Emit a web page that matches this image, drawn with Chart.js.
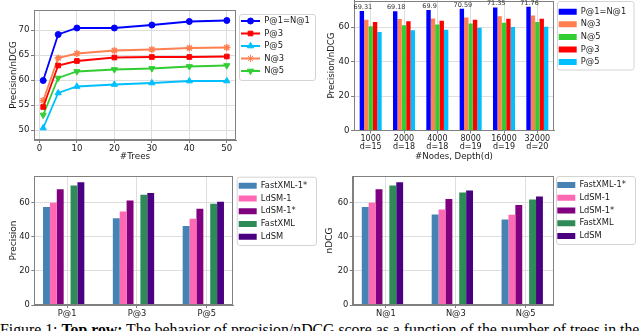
<!DOCTYPE html>
<html>
<head>
<meta charset="utf-8">
<script src="https://cdn.jsdelivr.net/npm/chart.js@4.4.0/dist/chart.umd.min.js"></script>
<style>
  html, body { margin: 0; padding: 0; background: #fff; overflow: hidden; }
  body { width: 640px; height: 331px; position: relative; }
  canvas { position: absolute; }
  #caption { position: absolute; left: 0; top: 322px; font-family: "Liberation Serif", serif; font-size: 15.8px; line-height: 1; white-space: nowrap; color: #000; }
</style>
</head>
<body>
<canvas id="treesChart" width="320" height="170" style="left:0;top:0"></canvas>
<canvas id="nodesChart" width="320" height="170" style="left:320px;top:0"></canvas>
<canvas id="precChart" width="320" height="150" style="left:0;top:170px"></canvas>
<canvas id="ndcgChart" width="320" height="150" style="left:320px;top:170px"></canvas>
<div id="caption">Figure 1: <b>Top row:</b> The behavior of precision/nDCG score as a function of the number of trees in the</div>
<script>
// top left: score vs number of trees
const treeCounts = [1, 5, 10, 20, 30, 40, 50];
const treesP1 = [59.9, 69.1, 70.4, 70.4, 71.0, 71.7, 71.9];
const treesP3 = [54.6, 62.9, 63.8, 64.5, 64.6, 64.6, 64.7];
const treesP5 = [50.4, 57.4, 58.7, 59.1, 59.4, 59.8, 59.8];
const treesN3 = [55.9, 64.4, 65.3, 65.9, 66.1, 66.4, 66.5];
const treesN5 = [53.0, 60.4, 61.7, 62.1, 62.3, 62.7, 62.9];
const treeXTicks = [0, 10, 20, 30, 40, 50];
const treeYTicks = [50, 55, 60, 65, 70];

// top right: score vs #nodes / depth
const nodeLabels = [['1000', 'd=15'], ['2000', 'd=18'], ['4000', 'd=18'], ['8000', 'd=19'], ['16000', 'd=19'], ['32000', 'd=20']];
const nodesP1 = [69.31, 69.18, 69.9, 70.59, 71.35, 71.76];
const nodesN3 = [64.2, 64.6, 65.0, 65.6, 66.3, 66.7];
const nodesN5 = [60.4, 61.0, 61.5, 62.1, 62.5, 62.9];
const nodesP3 = [62.9, 63.3, 63.7, 64.2, 64.8, 64.8];
const nodesP5 = [57.1, 58.1, 58.5, 59.6, 60.0, 60.2];

// bottom: comparison of methods
const precCats = ['P@1', 'P@3', 'P@5'];
const precFastXml1 = [57.3, 50.7, 46.2];
const precLdsm1 = [59.8, 54.7, 50.5];
const precLdsm1Star = [67.8, 61.2, 56.3];
const precFastXml = [69.9, 64.5, 59.2];
const precLdsm = [71.9, 65.5, 60.4];

const ndcgCats = ['N@1', 'N@3', 'N@5'];
const ndcgFastXml1 = [57.3, 53.0, 50.1];
const ndcgLdsm1 = [59.8, 55.9, 52.8];
const ndcgLdsm1Star = [67.8, 62.0, 58.6];
const ndcgFastXml = [69.9, 65.9, 61.8];
const ndcgLdsm = [71.9, 67.0, 63.5];

const barYTicks = [0, 20, 40, 60];

Chart.defaults.font.family = 'DejaVu Sans';
Chart.defaults.color = '#1a1a1a';
Chart.defaults.animation = false;

const GRID = '#dedede';
const SPINE = '#808080';

// box round the plot, legend frame + placement, value labels
const framePlugin = {
    id: 'frame',
    afterInit(chart) {
        const lg = chart.legend;
        const fit = lg.fit.bind(lg);
        const draw = lg.draw.bind(lg);
        lg.fit = function() {
            fit();
            this.width = chart.options.plugins.frame.legendWidth;
        };
        lg.draw = function() {
            const o = chart.options.plugins.frame;
            const ctx = chart.ctx;
            const dx = o.swatchX - (this.left + o.pad);
            const dy = o.firstY - (this.top + o.pad + o.fontSize / 2);
            const b = o.box;
            ctx.save();
            ctx.fillStyle = '#ffffff';
            ctx.strokeStyle = '#d4d4d4';
            ctx.lineWidth = 1;
            ctx.beginPath();
            ctx.roundRect(b[0] + 0.5, b[1] + 0.5, b[2], b[3], 2.5);
            ctx.fill();
            ctx.stroke();
            ctx.translate(dx, dy);
            draw();
            // markers on the line legend
            if (o.markers && Chart.helpers && Chart.helpers.drawPoint) {
                const step = Math.max(o.fontSize, o.boxHeight) + o.pad;
                chart.data.datasets.forEach((ds, i) => {
                    ctx.fillStyle = ds.borderColor;
                    ctx.strokeStyle = ds.borderColor;
                    Chart.helpers.drawPoint(ctx, {
                        pointStyle: ds.pointStyle,
                        rotation: ds.pointRotation || 0,
                        radius: ds.pointRadius,
                        borderWidth: 1.2
                    }, this.left + o.pad + o.boxWidth / 2, this.top + o.pad + i * step + o.fontSize / 2);
                });
            }
            ctx.restore();
        };
    },
    afterDatasetsDraw(chart) {
        const o = chart.options.plugins.frame;
        const ctx = chart.ctx;
        const a = chart.chartArea;
        ctx.save();
        ctx.strokeStyle = SPINE;
        ctx.lineWidth = 1;
        ctx.strokeRect(Math.round(a.left) + 0.5, Math.round(a.top) + 0.5,
            Math.round(a.right - a.left) - 1, Math.round(a.bottom - a.top) - 1);
        if (o.valueLabels) {
            const meta = chart.getDatasetMeta(0);
            ctx.fillStyle = '#333';
            ctx.font = '6.5px "DejaVu Sans"';
            ctx.textAlign = 'center';
            ctx.textBaseline = 'bottom';
            meta.data.forEach((bar, i) => {
                ctx.fillText(String(chart.data.datasets[0].data[i]), bar.x + 1, bar.y - 0.5);
            });
        }
        ctx.restore();
    }
};

function setTicks(vals) {
    return s => { s.ticks = vals.map(v => ({ value: v })); };
}
function fixX(h) {
    return s => { s.height = h; s.paddingLeft = 0; s.paddingRight = 0; };
}
function fixY(w) {
    return s => { s.width = w; s.paddingTop = 0; s.paddingBottom = 0; };
}
function gridOpts() {
    return { color: GRID, tickColor: SPINE, tickLength: 3, offset: false };
}
function flatLegend(chart) {
    return Chart.defaults.plugins.legend.labels.generateLabels(chart)
        .map(l => Object.assign(l, { lineWidth: 0, fillStyle: l.strokeStyle }));
}

function lineSet(label, vals, color, style, rot, r) {
    return {
        label: label,
        data: treeCounts.map((x, i) => ({ x: x, y: vals[i] })),
        borderColor: color,
        backgroundColor: color,
        borderWidth: 1.8,
        pointStyle: style,
        pointRotation: rot,
        pointRadius: r,
        pointBorderWidth: style === 'star' ? 1.5 : 1,
        tension: 0
    };
}

// top left
new Chart(document.getElementById('treesChart'), {
    type: 'line',
    data: {
        datasets: [
            lineSet('P@1=N@1', treesP1, '#0000ff', 'circle', 0, 3),
            lineSet('P@3', treesP3, '#ff0000', 'rect', 0, 3.3),
            lineSet('P@5', treesP5, '#00bfff', 'triangle', 0, 3.6),
            lineSet('N@3', treesN3, '#ff7f50', 'star', 0, 3.6),
            lineSet('N@5', treesN5, '#32cd32', 'triangle', 180, 3.6)
        ]
    },
    options: {
        responsive: false,
        layout: { padding: { top: 10, left: 0, right: 0, bottom: 0 } },
        scales: {
            x: {
                type: 'linear', bounds: 'data', min: -1.45, max: 52.45,
                afterBuildTicks: setTicks(treeXTicks), afterFit: fixX(30),
                ticks: { padding: 1, font: { size: 8.6 } },
                grid: gridOpts(), border: { color: SPINE },
                title: { display: true, text: '#Trees', font: { size: 8.8 }, padding: { top: 0, bottom: 7.7 } }
            },
            y: {
                min: 48, max: 74,
                afterBuildTicks: setTicks(treeYTicks), afterFit: fixY(34),
                ticks: { padding: 1.5, font: { size: 8.6 } },
                grid: gridOpts(), border: { color: SPINE },
                title: { display: true, text: 'Precision/nDCG', font: { size: 8.8 }, padding: { top: 8.7, bottom: 0 } }
            }
        },
        plugins: {
            tooltip: { enabled: false },
            legend: {
                position: 'right', align: 'start',
                labels: { boxWidth: 19, boxHeight: 2, padding: 4.1, font: { size: 8.4 }, generateLabels: flatLegend }
            },
            frame: { legendWidth: 84, swatchX: 241, firstY: 21, pad: 4.1, fontSize: 8.4, boxWidth: 19, boxHeight: 2, box: [239, 14, 76, 66], markers: true }
        }
    },
    plugins: [framePlugin]
});

// top right
function nodeBar(label, vals, color) {
    return { label: label, data: vals, backgroundColor: color, borderWidth: 0 };
}
new Chart(document.getElementById('nodesChart'), {
    type: 'bar',
    data: {
        labels: nodeLabels,
        datasets: [
            nodeBar('P@1=N@1', nodesP1, '#0000ff'),
            nodeBar('N@3', nodesN3, '#ff7f50'),
            nodeBar('N@5', nodesN5, '#32cd32'),
            nodeBar('P@3', nodesP3, '#ff0000'),
            nodeBar('P@5', nodesP5, '#00bfff')
        ]
    },
    options: {
        responsive: false,
        datasets: { bar: { categoryPercentage: 0.66, barPercentage: 1 } },
        layout: { padding: { top: 0.5, left: 0, right: 0, bottom: 0 } },
        scales: {
            x: {
                offset: true, afterFit: fixX(39.5),
                ticks: { padding: 1, maxRotation: 0, autoSkip: false, font: { size: 8, lineHeight: 1.05 } },
                grid: gridOpts(), border: { color: SPINE },
                title: { display: true, text: '#Nodes, Depth(d)', font: { size: 8.6 }, padding: { top: 0, bottom: 7.7 } }
            },
            y: {
                min: 0, max: 75.4,
                afterBuildTicks: setTicks(barYTicks), afterFit: fixY(34),
                ticks: { padding: 1.5, font: { size: 8.6 } },
                grid: gridOpts(), border: { color: SPINE },
                title: { display: true, text: 'Precision/nDCG', font: { size: 8.6 }, padding: { top: 6.6, bottom: 0 } }
            }
        },
        plugins: {
            tooltip: { enabled: false },
            legend: {
                position: 'right', align: 'start',
                labels: { boxWidth: 18, boxHeight: 6, padding: 4.3, font: { size: 8.3 } }
            },
            frame: { legendWidth: 86, swatchX: 238.7, firstY: 11.7, pad: 4.3, fontSize: 8.3, boxWidth: 18, boxHeight: 6, box: [237, 1, 76.5, 68.5], valueLabels: true }
        }
    },
    plugins: [framePlugin]
});

// bottom: grouped bars with empty slots
function methodBar(label, vals, color) {
    return {
        label: label,
        data: [0, 1, 2].map(i => ({ x: i, y: vals ? vals[i] : null })),
        backgroundColor: color,
        borderWidth: 0
    };
}
function methodChart(id, cats, title, series, box, yWidth, xMin, xMax, titlePad, swatchX, firstY) {
    return new Chart(document.getElementById(id), {
        type: 'bar',
        data: {
            datasets: [
                methodBar('FastXML-1*', series[0], '#4682b4'),
                methodBar('LdSM-1', series[1], '#ff69b4'),
                methodBar('LdSM-1*', series[2], '#800080'),
                methodBar('', null, '#ffffff'),
                methodBar('FastXML', series[3], '#2e8b57'),
                methodBar('LdSM', series[4], '#4b0082'),
                methodBar('', null, '#ffffff')
            ]
        },
        options: {
            responsive: false,
            datasets: { bar: { categoryPercentage: 0.69, barPercentage: 1 } },
            layout: { padding: { top: 6, left: 0, right: 0, bottom: 0 } },
            scales: {
                x: {
                    type: 'linear', bounds: 'data', offset: false, min: xMin, max: xMax,
                    afterBuildTicks: setTicks([0, 1, 2]), afterFit: fixX(15),
                    ticks: { padding: 1, font: { size: 8.3 }, callback: v => cats[v] },
                    grid: gridOpts(), border: { color: SPINE }
                },
                y: {
                    min: 0, max: 75.5,
                    afterBuildTicks: setTicks(barYTicks), afterFit: fixY(yWidth),
                    ticks: { padding: 1.5, font: { size: 8.3 } },
                    grid: gridOpts(), border: { color: SPINE },
                    title: { display: true, text: title, font: { size: 9 }, padding: { top: titlePad, bottom: 0 } }
                }
            },
            plugins: {
                tooltip: { enabled: false },
                legend: {
                    position: 'right', align: 'start',
                    labels: { boxWidth: 18, boxHeight: 6, padding: 4.45, font: { size: 8.3 }, filter: item => item.text !== '' }
                },
                frame: { legendWidth: 320 - 233.3, swatchX: swatchX, firstY: firstY, pad: 4.45, fontSize: 8.3, boxWidth: 18, boxHeight: 6, box: box }
            }
        },
        plugins: [framePlugin]
    });
}

methodChart('precChart', precCats, 'Precision',
    [precFastXml1, precLdsm1, precLdsm1Star, precFastXml, precLdsm],
    [236.7, 6.7, 79.3, 68.3], 34.3, -0.47, 2.38, 7.9, 238.7, 15.7);
methodChart('ndcgChart', ndcgCats, 'nDCG',
    [ndcgFastXml1, ndcgLdsm1, ndcgLdsm1Star, ndcgFastXml, ndcgLdsm],
    [236, 6, 79, 68], 32.7, -0.475, 2.395, 4.6, 237.3, 15);
</script>
</body>
</html>
